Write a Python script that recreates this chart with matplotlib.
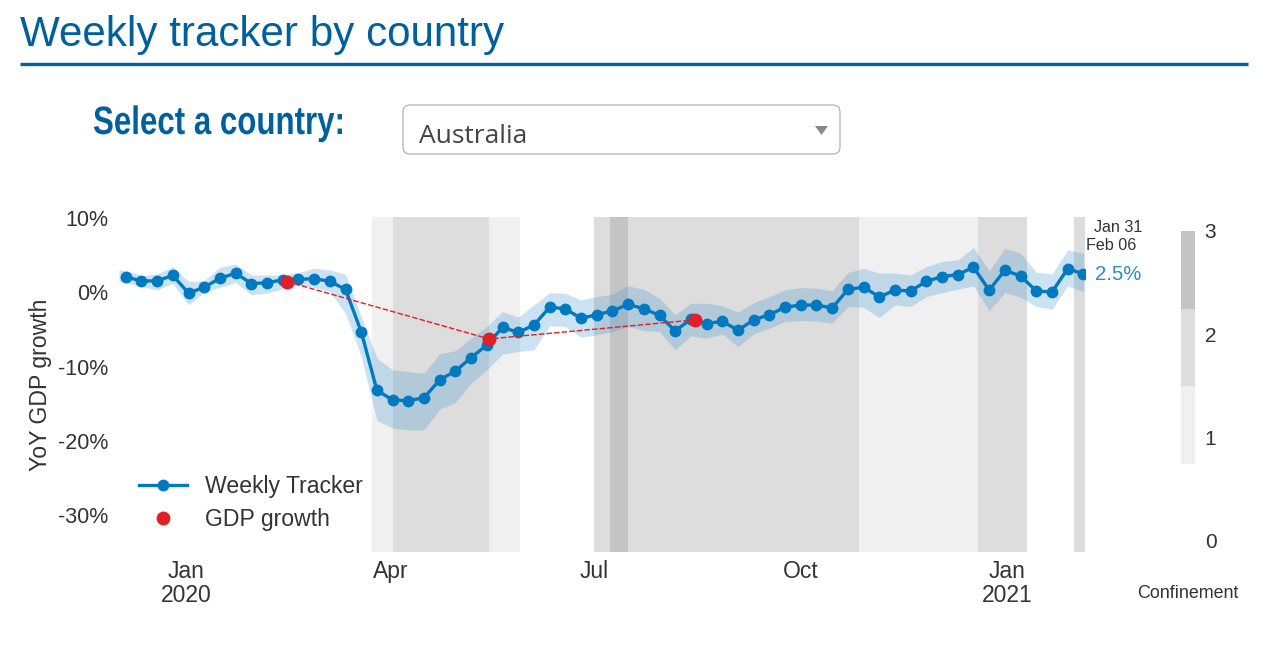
from __future__ import annotations

import matplotlib

matplotlib.use("Agg")
import matplotlib.dates as mdates
import matplotlib.patheffects as path_effects
import matplotlib.pyplot as plt
import pandas as pd
from matplotlib.patches import FancyBboxPatch, Polygon
from matplotlib.transforms import Affine2D

plt.rcParams["font.family"] = ["Liberation Sans", "DejaVu Sans"]

# weekly tracker, YoY %
tracker = [
    2.1, 1.55, 1.55, 2.3, -0.1, 0.7, 1.9, 2.6, 1.2, 1.3, 1.7, 1.77, 1.85, 1.5, 0.4,
    -5.3, -13.2, -14.5, -14.6, -14.2, -11.8, -10.6, -8.8, -7.1, -4.7, -5.4,
    -4.4, -2.0, -2.2, -3.5, -3.0, -2.5, -1.6, -2.2, -3.1, -5.2, -3.6, -4.2, -3.9,
    -5.1, -3.7, -3.0, -2.0, -1.7, -1.7, -2.1, 0.4, 0.7, -0.6, 0.3, 0.2, 1.5, 2.13,
    2.4, 3.4, 0.3, 3.0, 2.2, 0.2, 0.05, 3.2, 2.5,
]
# band has one extra leading point
band_upper = [
    3.03, 2.94, 2.27, 2.5, 3.48, 1.46, 1.6, 3.39, 3.84, 2.36, 2.36, 2.36, 2.67, 3.26,
    3.03, 2.45, -3.25, -8.87, -10.44, -10.67, -10.89, -8.29, -7.84, -6.17, -4.6,
    -2.58, -3.34, -1.68, -0.02, -0.11, -1.01, -0.56, -0.24, 0.88, 0.43, -0.78, -3.03,
    -1.46, -1.46, -1.82, -2.67, -1.37, -0.56, 0.34, 0.65, 0.56, 0.25, 2.67, 3.26,
    2.59, 2.59, 2.36, 3.48, 4.16, 4.38, 6.04, 2.9, 5.95, 5.28, 2.72, 2.5, 5.73, 5.28,
]
band_lower = [
    1.46, 1.33, 0.79, 0.34, 1.24, -1.68, -0.02, 0.7, 1.33, -0.29, -0.11, 0.47, 1.01,
    0.7, 0.11, -2.81, -8.64, -17.27, -18.3, -18.53, -18.53, -15.74, -14.84, -12.24,
    -10.44, -8.33, -7.97, -7.75, -4.51, -4.6, -6.04, -5.72, -5.28, -4.6, -5.14, -5.28,
    -7.75, -5.86, -6.17, -5.59, -7.3, -5.59, -4.83, -3.93, -3.79, -3.84, -4.15, -1.9,
    -2.0, -3.39, -1.68, -1.9, -0.56, -0.02, 0.43, 0.88, -2.45, -0.02, -0.65, -1.9,
    -2.27, 0.88, 0.11,
]

gdp_dates = ["2020-02-15", "2020-05-15", "2020-08-15"]
gdp_values = [1.45, -6.27, -3.7]

# confinement periods: start, end, level
conf_starts = ["2020-03-24", "2020-04-02", "2020-05-15", "2020-07-01", "2020-07-08",
               "2020-07-16", "2020-10-27", "2020-12-19", "2021-01-31"]
conf_ends = ["2020-04-02", "2020-05-15", "2020-05-29", "2020-07-08", "2020-07-16",
             "2020-10-27", "2020-12-19", "2021-01-10", "2021-02-05"]
conf_levels = [1, 2, 1, 2, 3, 2, 1, 2, 2]
level_colors = {1: "#f0f0f0", 2: "#dddddd", 3: "#c4c4c4"}

y_ticks = [10, 0, -10, -20, -30]
x_ticks = ["2020-01-01", "2020-04-01", "2020-07-01", "2020-10-01", "2021-01-01"]
x_tick_labels = ["Jan\n2020", "Apr", "Jul", "Oct", "Jan\n2021"]

W, H = 1267, 654
BLUE = "#0079c1"
HEAD = "#00609c"
TXT = "#333333"


class SqueezeX(path_effects.AbstractPathEffect):
    """Narrow the glyphs around x0 (no condensed font is installed)."""

    def __init__(self, x0, factor):
        super().__init__()
        self.x0 = x0
        self.factor = factor

    def draw_path(self, renderer, gc, tpath, affine, rgbFace=None):
        squeeze = Affine2D().translate(-self.x0, 0).scale(self.factor, 1).translate(self.x0, 0)
        renderer.draw_path(gc, tpath, affine + squeeze, rgbFace)


def px_axes(fig, left, top, right, bottom):
    """Axes placed by pixel box, y measured from the top."""
    return fig.add_axes([left / W, 1 - bottom / H, (right - left) / W, (bottom - top) / H])


fig = plt.figure(figsize=(W / 100, H / 100), dpi=100)

ax = px_axes(fig, 119, 217, 1084.5, 552)
weeks = pd.date_range("2019-12-05", periods=len(tracker), freq="7D")
band_dates = [pd.Timestamp("2019-12-02")] + list(weeks)

for start, end, level in zip(conf_starts, conf_ends, conf_levels):
    ax.axvspan(pd.Timestamp(start), pd.Timestamp(end), color=level_colors[level], lw=0, zorder=1)

ax.fill_between(band_dates, band_lower, band_upper, color="#3d94cc", alpha=0.27, lw=0, zorder=2)
ax.plot(weeks, tracker, color=BLUE, lw=2.4, marker="o", ms=8.5, mew=0, zorder=3, label="Weekly Tracker")
gdp_x = pd.to_datetime(gdp_dates)
ax.plot(gdp_x, gdp_values, color="#e01f26", lw=1, ls=(0, (4, 1.5)), zorder=4)
ax.plot(gdp_x, gdp_values, color="#e01f26", ls="none", marker="o", ms=10, mew=0, zorder=5, label="GDP growth")

ax.set_xlim(pd.Timestamp("2019-12-02"), pd.Timestamp("2021-02-04 12:00"))
ax.set_ylim(-35, 10.17)
ax.set_yticks(y_ticks)
ax.set_yticklabels([f"{v}%" for v in y_ticks])
ax.set_xticks(mdates.date2num(pd.to_datetime(x_ticks)))
ax.set_xticklabels(x_tick_labels, linespacing=1.05)
ax.tick_params(axis="both", length=0, labelcolor=TXT)
ax.tick_params(axis="y", pad=8, labelsize=15.5)
ax.tick_params(axis="x", pad=5.5, labelsize=16.5)
for spine in ax.spines.values():
    spine.set_visible(False)
ax.set_ylabel("YoY GDP growth", fontsize=16.6, color=TXT, labelpad=4)
ax.legend(
    loc="lower left",
    bbox_to_anchor=(20 / 965.5, 21 / 335),
    frameon=False,
    fontsize=16.6,
    labelcolor=TXT,
    handlelength=2.08,
    handletextpad=0.78,
    labelspacing=0.42,
    borderaxespad=0,
    borderpad=0,
)

# confinement scale
cb = px_axes(fig, 1181, 231, 1195, 541)
cb.bar([0, 0, 0], [0.75, 0.75, 0.75], bottom=[0.75, 1.5, 2.25], width=1,
       color=[level_colors[1], level_colors[2], level_colors[3]], lw=0)
cb.set_xlim(-0.5, 0.5)
cb.set_ylim(0, 3)
cb.set_xticks([])
cb.set_yticks([0, 1, 2, 3])
cb.yaxis.tick_right()
cb.tick_params(axis="y", length=0, labelsize=15, labelcolor=TXT, pad=7)
for spine in cb.spines.values():
    spine.set_visible(False)

# page furniture in pixel coordinates
page = fig.add_axes([0, 0, 1, 1], zorder=-1)
page.set_xlim(0, W)
page.set_ylim(H, 0)
page.axis("off")
page.text(20, 46, "Weekly tracker by country", fontsize=30.3, color=HEAD, va="baseline")
page.plot([20, 1248], [63.5, 63.5], color=HEAD, lw=2.4, solid_capstyle="butt")
page.text(93, 134, "Select a country:", fontsize=28.5, color=HEAD, va="baseline", fontweight="bold",
          path_effects=[SqueezeX(93, 0.79)])
box = FancyBboxPatch((407, 109), 429, 41, boxstyle="round,pad=4,rounding_size=7",
                     fc="white", ec="#aaaaaa", lw=0.8)
page.add_patch(box)
page.text(419, 143, "Australia", fontsize=19, color="#444444", va="baseline", family=["Open Sans", "DejaVu Sans"])
page.add_patch(Polygon([(815, 126), (828, 126), (821.5, 135)], closed=True, fc="#888888", ec="none"))

page.text(1142, 228, "Jan 31", fontsize=11.6, color=TXT, ha="right", va="center")
page.text(1136, 246, "Feb 06", fontsize=11.6, color=TXT, ha="right", va="center")
page.text(1141, 274, "2.5%", fontsize=14.7, color="#2b8cc9", ha="right", va="center")
page.text(1238, 593, "Confinement", fontsize=12.9, color=TXT, ha="right", va="center")

fig.savefig("out.png", dpi=100)
plt.close(fig)
